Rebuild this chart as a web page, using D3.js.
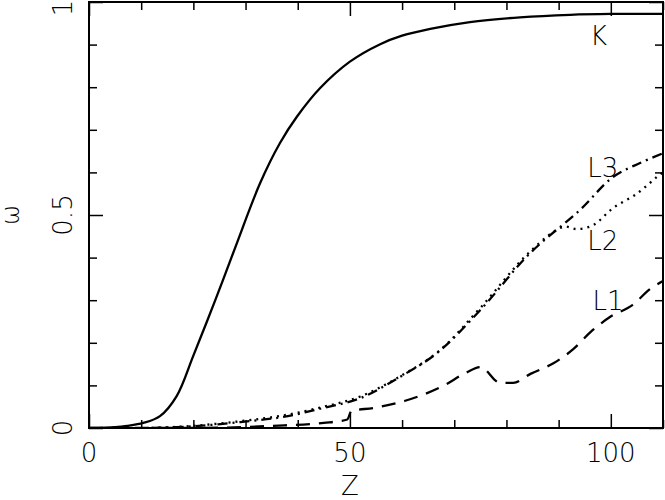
<!DOCTYPE html>
<html>
<head>
<meta charset="utf-8">
<script src="https://cdn.jsdelivr.net/npm/d3@7"></script>
<style>
  html, body { margin: 0; padding: 0; background: #fff; }
  svg { display: block; }
  text { font-family: "DejaVu Sans", sans-serif; font-weight: 200; fill: #000; }
</style>
</head>
<body>
<svg id="chart" width="665" height="500"></svg>
<script>
// ---- data ----
const zK = [0, 5, 7.3, 10.4, 13.6, 16.8, 20, 24.2, 28, 32.8, 36.6, 39.8, 44.3, 50, 55.8, 60, 65.4, 73, 82.6, 92.2, 100, 110];
const wK = [0, 0.002, 0.005, 0.012, 0.028, 0.075, 0.17, 0.30, 0.423, 0.575, 0.669, 0.73, 0.798, 0.86, 0.901, 0.921, 0.937, 0.953, 0.964, 0.97, 0.972, 0.972];

const zL3 = [12, 20, 29, 37.2, 44.9, 52, 59.6, 66.7, 75, 84.5, 94.1, 100.4, 105.6, 110];
const wL3 = [0, 0.004, 0.014, 0.026, 0.047, 0.07, 0.12, 0.176, 0.277, 0.41, 0.512, 0.589, 0.622, 0.645];

const zL2 = [12, 20, 29, 37, 45, 52, 60, 67, 75, 84.5, 90.9, 93.5, 96.6, 100.4, 105, 108.9, 110];
const wL2 = [0, 0.005, 0.016, 0.029, 0.05, 0.074, 0.124, 0.18, 0.282, 0.414, 0.472, 0.467, 0.476, 0.516, 0.55, 0.59, 0.6];

const zL1 = [0, 20, 35, 45, 49.5, 50.3, 54.5, 60.6, 67.9, 72.3, 75, 78.8, 81.3, 84.6, 89, 92.8, 96.2, 99.9, 104.2, 107.5, 110];
const wL1 = [0, 0, 0.005, 0.012, 0.02, 0.04, 0.047, 0.064, 0.099, 0.13, 0.143, 0.106, 0.106, 0.127, 0.152, 0.185, 0.226, 0.261, 0.289, 0.326, 0.345];

const xMajorTicks = [0, 50, 100];
const xMinorTicks = [10, 20, 30, 40, 60, 70, 80, 90, 110];
const yMajorTicks = [0, 0.5, 1];
const yMinorTicks = [0.1, 0.2, 0.3, 0.4, 0.6, 0.7, 0.8, 0.9];
const xTickLabels = ["0", "50", "100"];
const yTickLabels = ["0", "0.5", "1"];

const curveLabels = [
  { name: "K", z: 96, w: 0.898 },
  { name: "L3", z: 95.5, w: 0.589 },
  { name: "L2", z: 95.5, w: 0.418 },
  { name: "L1", z: 96.5, w: 0.277 }
];

// ---- layout ----
const L = 89, R = 663, T = 2, B = 428;
const svg = d3.select("#chart");
const x = d3.scaleLinear().domain([0, 110]).range([L, R]);
const y = d3.scaleLinear().domain([0, 1]).range([B, T]);

const MAJ = 14, MIN = 8;

function styleAxis(g) {
  g.select(".domain").remove();
  g.selectAll(".tick line").attr("stroke", "#000").attr("stroke-width", 1.5);
  g.selectAll(".tick text").remove();
}

// bottom
svg.append("g").attr("transform", `translate(0,${B})`)
  .call(d3.axisBottom(x).tickValues(xMajorTicks).tickSizeInner(-MAJ).tickSizeOuter(0)).call(styleAxis);
svg.append("g").attr("transform", `translate(0,${B})`)
  .call(d3.axisBottom(x).tickValues(xMinorTicks).tickSizeInner(-MIN).tickSizeOuter(0)).call(styleAxis);
// top
svg.append("g").attr("transform", `translate(0,${T})`)
  .call(d3.axisTop(x).tickValues(xMajorTicks).tickSizeInner(-MAJ).tickSizeOuter(0)).call(styleAxis);
svg.append("g").attr("transform", `translate(0,${T})`)
  .call(d3.axisTop(x).tickValues(xMinorTicks).tickSizeInner(-MIN).tickSizeOuter(0)).call(styleAxis);
// left
svg.append("g").attr("transform", `translate(${L},0)`)
  .call(d3.axisLeft(y).tickValues(yMajorTicks).tickSizeInner(-MAJ).tickSizeOuter(0)).call(styleAxis);
svg.append("g").attr("transform", `translate(${L},0)`)
  .call(d3.axisLeft(y).tickValues(yMinorTicks).tickSizeInner(-MIN).tickSizeOuter(0)).call(styleAxis);
// right
svg.append("g").attr("transform", `translate(${R},0)`)
  .call(d3.axisRight(y).tickValues(yMajorTicks).tickSizeInner(-MAJ).tickSizeOuter(0)).call(styleAxis);
svg.append("g").attr("transform", `translate(${R},0)`)
  .call(d3.axisRight(y).tickValues(yMinorTicks).tickSizeInner(-MIN).tickSizeOuter(0)).call(styleAxis);

// frame
svg.append("rect").attr("x", L).attr("y", T).attr("width", R - L).attr("height", B - T)
  .attr("fill", "none").attr("stroke", "#000").attr("stroke-width", 2);

// tick labels
svg.append("g").selectAll("text").data(xMajorTicks).join("text")
  .attr("x", d => x(d)).attr("y", 462)
  .attr("text-anchor", "middle").attr("font-size", 26)
  .text((d, i) => xTickLabels[i]);

svg.append("g").selectAll("text").data(yMajorTicks).join("text")
  .attr("transform", d => `translate(72,${Math.max(y(d), 8)}) rotate(-90)`)
  .attr("text-anchor", "middle").attr("font-size", 26)
  .text((d, i) => yTickLabels[i]);

// axis titles
svg.append("text").attr("x", x(50)).attr("y", 495).attr("text-anchor", "middle")
  .attr("font-size", 26).text("Z");
svg.append("text").attr("transform", `translate(19,${y(0.5)}) rotate(-90)`)
  .attr("text-anchor", "middle").attr("font-size", 24).text("ω");

// curves
const smooth = d3.line().x(d => x(d[0])).y(d => y(d[1])).curve(d3.curveCatmullRom.alpha(0.5));
const kinked = d3.line().x(d => x(d[0])).y(d => y(d[1])).curve(d3.curveMonotoneX);
const series = [
  { z: zK, w: wK, dash: null, gen: smooth },
  { z: zL3, w: wL3, dash: "10,5,2,5", gen: smooth },
  { z: zL2, w: wL2, dash: "2,5", gen: smooth },
  { z: zL1, w: wL1, dash: "14,9", gen: kinked }
];
svg.append("clipPath").attr("id", "clip").append("rect")
  .attr("x", L).attr("y", T).attr("width", R - L).attr("height", B - T);
const gc = svg.append("g").attr("clip-path", "url(#clip)");
series.forEach(s => {
  gc.append("path")
    .attr("d", s.gen(s.z.map((z, i) => [z, s.w[i]])))
    .attr("fill", "none").attr("stroke", "#000").attr("stroke-width", 2.3)
    .attr("stroke-dasharray", s.dash);
});

// curve labels
svg.append("g").selectAll("text").data(curveLabels).join("text")
  .attr("x", d => x(d.z)).attr("y", d => y(d.w))
  .attr("font-size", 26)
  .text(d => d.name);
</script>
</body>
</html>
